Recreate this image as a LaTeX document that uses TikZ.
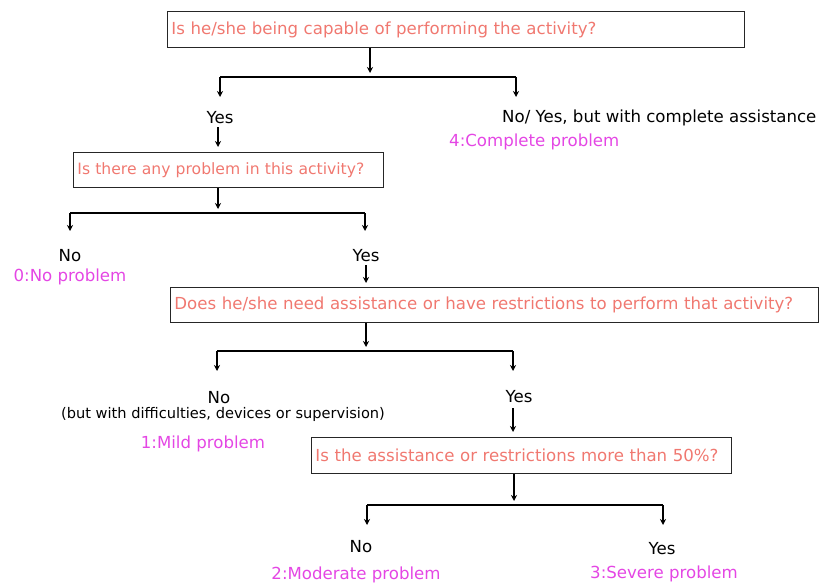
\documentclass[tikz,border=0pt]{standalone}
\usepackage{fontspec}
\setmainfont{DejaVu Sans}
\usetikzlibrary{arrows.meta, positioning}
\definecolor{qred}{RGB}{240,120,112}
\definecolor{gmag}{RGB}{228,70,228}
\tikzstyle{arrow} = [line width=1.7pt,-{Stealth[length=6pt,width=6pt]}]
\tikzstyle{branch} = [line width=1.7pt]
\tikzstyle{qbox} = [draw=black!85, line width=0.9pt, anchor=north west, inner sep=4pt, align=left, font=\fontsize{16.6}{18}\selectfont, text=qred, minimum height=36pt]
\tikzstyle{ans} = [font=\fontsize{16.6}{18}\selectfont, text=black, inner sep=1pt]
\tikzstyle{grade} = [font=\fontsize{16.6}{18}\selectfont, text=gmag, inner sep=1pt]

\begin{document}
\begin{tikzpicture}[x=1pt,y=-1pt]
\useasboundingbox (0,0) rectangle (826,583);

                    % Question 1
                    \node[qbox, text width=569pt] (q1) at (167,11) {Is he/she being capable of performing the activity?};
                    \coordinate (b1) at (370,77);
                    \coordinate (b1l) at (220,77);
                    \coordinate (b1r) at (516,77);
                    \node[ans] (yes1) at (220,118) {Yes};
                    \node[ans, anchor=west] (no1) at (501,118) {No/ Yes, but with complete assistance};
                    \node[grade, anchor=west] (g4) at (448,142) {4:Complete problem};
                    \draw[arrow, shorten >=4pt] (q1.south -| b1) -- (b1);
                    \draw[branch] (b1l) -- (b1r);
                    \draw[arrow] (b1l) -- ++(0,20);
                    \draw[arrow] (b1r) -- ++(0,20);

                    % Question 2
                    \node[qbox, text width=302pt, minimum height=35pt, font=\fontsize{15.6}{18}\selectfont] (q2) at (73,152) {\mbox{Is there any problem in this activity?}};
                    \draw[arrow, shorten <=2pt, shorten >=5pt] (yes1.south -| 218,0) -- (q2.north -| 218,0);
                    \coordinate (b2) at (218,213);
                    \coordinate (b2l) at (70,213);
                    \coordinate (b2r) at (365,213);
                    \node[ans] (no2) at (70,256) {No};
                    \node[grade] (g0) at (70,277) {0:No problem};
                    \node[ans] (yes2) at (366,256) {Yes};
                    \draw[arrow, shorten >=4pt] (q2.south -| b2) -- (b2);
                    \draw[branch] (b2l) -- (b2r);
                    \draw[arrow] (b2l) -- ++(0,18);
                    \draw[arrow] (b2r) -- ++(0,18);

                    % Question 3
                    \node[qbox, text width=640pt, minimum height=35pt] (q3) at (170,287) {Does he/she need assistance or have restrictions to perform that activity?};
                    \draw[arrow, shorten <=2pt, shorten >=4pt] (yes2.south) -- (yes2.south |- q3.north);
                    \coordinate (b3) at (366,351);
                    \coordinate (b3l) at (217,351);
                    \coordinate (b3r) at (513,351);
                    \node[ans] (no3) at (219,398) {No};
                    \node[ans, font=\fontsize{14.6}{16}\selectfont] (note3) at (223,414) {(but with difficulties, devices or supervision)};
                    \node[grade] (g1) at (203,444) {1:Mild problem};
                    \node[ans] (yes3) at (519,397) {Yes};
                    \draw[arrow, shorten >=4pt] (q3.south -| b3) -- (b3);
                    \draw[branch] (b3l) -- (b3r);
                    \draw[arrow] (b3l) -- ++(0,20);
                    \draw[arrow] (b3r) -- ++(0,20);

                    % Question 4
                    \node[qbox, text width=412pt] (q4) at (311,437) {Is the assistance or restrictions more than 50\%?};
                    \draw[arrow, shorten <=4pt, shorten >=5pt] (yes3.south -| 513,0) -- (q4.north -| 513,0);
                    \coordinate (b4) at (514,505);
                    \coordinate (b4l) at (367,505);
                    \coordinate (b4r) at (663,505);
                    \node[ans] (no4) at (361,547) {No};
                    \node[grade] (g2) at (356,575) {2:Moderate problem};
                    \node[ans] (yes4) at (662,549) {Yes};
                    \node[grade] (g3) at (664,574) {3:Severe problem};
                    \draw[arrow, shorten >=4pt] (q4.south -| b4) -- (b4);
                    \draw[branch] (b4l) -- (b4r);
                    \draw[arrow] (b4l) -- ++(0,20);
                    \draw[arrow] (b4r) -- ++(0,20);

\end{tikzpicture}
\end{document}
